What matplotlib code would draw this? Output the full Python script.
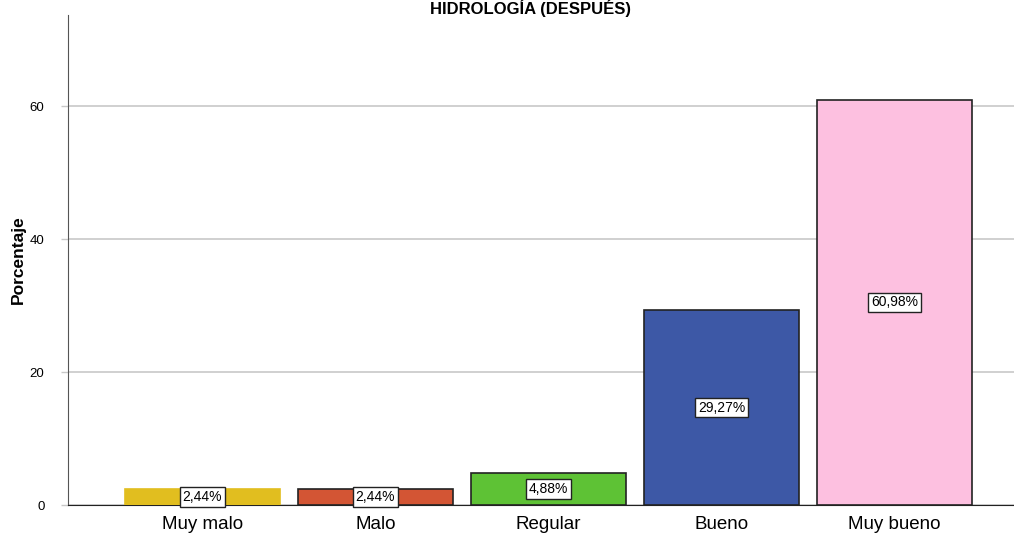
import matplotlib
matplotlib.use("Agg")
import matplotlib.pyplot as plt

categories = ["Muy malo", "Malo", "Regular", "Bueno", "Muy bueno"]
values = [2.44, 2.44, 4.88, 29.27, 60.98]
labels = ["2,44%", "2,44%", "4,88%", "29,27%", "60,98%"]
colors = ["#E1BE1F", "#D35534", "#5EC235", "#3D58A6", "#FDC0E0"]
edges = ["#E1BE1F", "#222222", "#222222", "#222222", "#222222"]
yticks = [0, 20, 40, 60]

plt.rcParams['font.family'] = ['Liberation Sans', 'DejaVu Sans']

W, H = 1014, 534
fig = plt.figure(figsize=(W / 100, H / 100), dpi=100)
ax = fig.add_axes([68 / W, (H - 505) / H, 1 - 68 / W, (505 - 15) / H])

x = list(range(len(categories)))
ax.bar(x, values, width=0.896, color=colors, edgecolor=edges, linewidth=1.2, zorder=3)
for xi, v, lab in zip(x, values, labels):
    ax.text(xi, v / 2, lab, ha="center", va="center", fontsize=10, zorder=4,
            bbox=dict(boxstyle="square,pad=0.2", fc="white", ec="#222222", lw=1))

ax.set_xlim(-0.777, 4.69)
ax.set_ylim(0, 73.7)
ax.set_xticks(x)
ax.set_xticklabels(categories, fontsize=13.5)
ax.set_yticks(yticks)
ax.set_yticklabels([str(t) for t in yticks], fontsize=9.5)
ax.tick_params(axis="x", length=0, pad=8)
ax.tick_params(axis="y", length=5, width=1, color="#C8C8C8", pad=12)
ax.yaxis.grid(True, color="#C8C8C8", linewidth=1.2, zorder=0)
for s in ["top", "right"]:
    ax.spines[s].set_visible(False)
ax.spines["left"].set_color("#555555")
ax.spines["bottom"].set_color("#222222")
ax.set_ylabel("Porcentaje", fontsize=12.5, fontweight="bold")
ax.yaxis.set_label_coords(-42 / 946, 0.5)

fig.text((68 + 1014) / 2 / W - 0.01, 1 - 8 / H, "HIDROLOGÍA (DESPUÉS)", ha="center", va="center",
         fontsize=12, fontweight="bold")

fig.savefig("out.png", dpi=100)
